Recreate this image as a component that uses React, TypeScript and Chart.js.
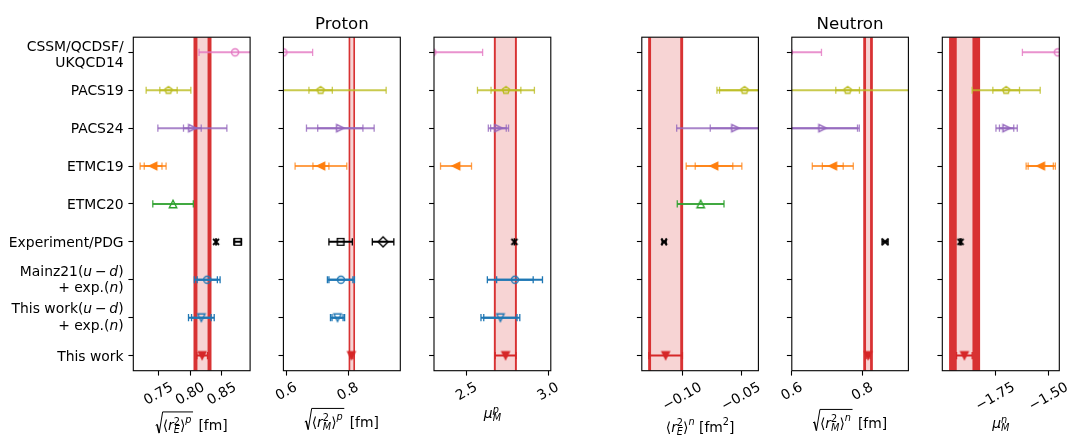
import React, { useEffect, useRef } from "react";
import { Chart, registerables } from "chart.js";
Chart.register(...registerables);

const W = 1069;
const H = 437;
const FONT = "'DejaVu Sans', 'Noto Sans', sans-serif";
const FS = 13.9;

// ---------------- data ----------------
const categories = [
  "CSSM/QCDSF/\nUKQCD14",
  "PACS19",
  "PACS24",
  "ETMC19",
  "ETMC20",
  "Experiment/PDG",
  "Mainz21($u-d$)\n+ exp.($n$)",
  "This work($u-d$)\n+ exp.($n$)",
  "This work",
];
const rowColors = ["#e377c2", "#bcbd22", "#9467bd", "#ff7f0e", "#2ca02c", "#000000", "#1f77b4", "#1f77b4", "#d62728"];
const rowMarkers = ["o", "p", ">", "<", "^", "x", "o", "v", "v"];
const rowFilled = [false, false, false, true, false, false, false, false, true];
const rowAlpha = [0.8, 0.8, 0.8, 0.75, 0.9, 1, 1, 1, 1];

// sqrt(<r_E^2>^p) [fm]
const rEpValues = [0.871, 0.7658, 0.8035, 0.7415, 0.773, null, 0.827, 0.8177, 0.819];
const rEpInner = [null, 0.0137, 0.014, 0.014, null, null, 0.016, 0.0155, null];
const rEpOuter = [0.057, 0.0353, 0.0545, 0.0205, 0.032, null, 0.0203, 0.0203, 0.0084];
const rEpExp = [0.8409, 0.8751];
const rEpExpErr = [0.0004, 0.0061];
const rEpBand = [0.8195, 0.0079, 0.0142];
const rEpTicks = [0.75, 0.8, 0.85];
const rEpTickLabels = ["0.75", "0.80", "0.85"];

// sqrt(<r_M^2>^p) [fm]
const rMpValues = [0.59, 0.711, 0.775, 0.712, null, null, 0.777, 0.766, 0.811];
const rMpInner = [null, 0.038, 0.0735, 0.026, null, null, 0.039, 0.018, null];
const rMpOuter = [0.095, 0.213, 0.11, 0.084, null, null, 0.044, 0.023, 0.005];
const rMpExp = [0.776, 0.914];
const rMpExpErr = [0.038, 0.035];
const rMpBand = [0.8124, 0.0049, 0.0104];
const rMpTicks = [0.6, 0.8];
const rMpTickLabels = ["0.6", "0.8"];

// mu_M^p
const muPValues = [2.29, 2.741, 2.695, 2.435, null, null, 2.796, 2.707, 2.739];
const muPInner = [null, 0.0915, 0.048, null, null, null, 0.112, 0.102, null];
const muPOuter = [0.308, 0.1745, 0.062, 0.095, null, null, 0.169, 0.119, 0.064];
const muPExp = [2.7928];
const muPExpErr = [0.0003];
const muPBand = [2.7375, 0.0585, 0.0705];
const muPTicks = [2.5, 3.0];
const muPTickLabels = ["2.5", "3.0"];

// <r_E^2>^n [fm^2]
const rEnValues = [null, -0.047, -0.0548, -0.073, -0.0844, null, null, null, -0.1142];
const rEnInner = [null, 0.0213, 0.0214, 0.016, null, null, null, null, null];
const rEnOuter = [null, 0.0235, 0.05, 0.0237, 0.0199, null, null, null, 0.0143];
const rEnExp = [-0.1155];
const rEnExpErr = [0.0017];
const rEnBand = [-0.1142, 0.0124, 0.0149];
const rEnTicks = [-0.1, -0.05];
const rEnTickLabels = ["\u22120.10", "\u22120.05"];

// sqrt(<r_M^2>^n) [fm]
const rMnValues = [0.592, 0.758, 0.687, 0.716, null, null, null, null, 0.816];
const rMnInner = [null, 0.0335, 0.099, 0.0295, null, null, null, null, null];
const rMnOuter = [0.092, 0.21, 0.104, 0.058, null, null, null, null, 0.0057];
const rMnExp = [0.864];
const rMnExpErr = [0.0085];
const rMnBand = [0.8158, 0.0057, 0.0136];
const rMnTicks = [0.6, 0.8];
const rMnTickLabels = ["0.6", "0.8"];

// mu_M^n
const muNValues = [-1.457, -1.699, -1.697, -1.537, null, null, null, null, -1.895];
const muNInner = [null, 0.0625, 0.0335, 0.059, null, null, null, null, null];
const muNOuter = [0.166, 0.1595, 0.05, 0.0685, null, null, null, null, 0.0366];
const muNExp = [-1.913];
const muNExpErr = [0.003];
const muNBand = [-1.894, 0.0366, 0.0727];
const muNTicks = [-1.75, -1.5];
const muNTickLabels = ["\u22121.75", "\u22121.50"];

// ---------------- label specs ----------------
type Tok = { t?: string; it?: boolean; s?: "sup" | "sub"; stack?: boolean; dy?: number; sq?: "open" | "close" };

const sqrtLabel = (sub: string, sup: string): Tok[] => [
  { sq: "open" },
  { t: "\u27E8" },
  { t: "r", it: true },
  { t: sub, it: true, s: "sub" },
  { t: "2", s: "sup", stack: true },
  { t: "\u27E9" },
  { t: sup, it: true, s: "sup", dy: -0.5 },
  { sq: "close" },
  { t: " [fm]" },
];
const muLabel = (sup: string): Tok[] => [
  { t: "\u03BC", it: true },
  { t: "M", it: true, s: "sub" },
  { t: sup, it: true, s: "sup", stack: true },
];
const rEnLabel: Tok[] = [
  { t: "\u27E8" },
  { t: "r", it: true },
  { t: "E", it: true, s: "sub" },
  { t: "2", s: "sup", stack: true },
  { t: "\u27E9" },
  { t: "n", it: true, s: "sup", dy: -0.5 },
  { t: " [fm" },
  { t: "2", s: "sup", dy: -0.45 },
  { t: "]" },
];

const TOP = 37.2;
const BOTTOM = 370.7;

const PANELS = [
  { values: rEpValues, inner: rEpInner, outer: rEpOuter, exp: rEpExp, expErr: rEpExpErr, expMarkers: ["x", "s"], band: rEpBand, ticks: rEpTicks, tickLabels: rEpTickLabels, xmin: 0.7102, xmax: 0.8947, left: 133.3, right: 250.1, xlabel: sqrtLabel("E", "p"), xlabelBase: 430, title: "" },
  { values: rMpValues, inner: rMpInner, outer: rMpOuter, exp: rMpExp, expErr: rMpExpErr, expMarkers: ["s", "D"], band: rMpBand, ticks: rMpTicks, tickLabels: rMpTickLabels, xmin: 0.59, xmax: 0.97, left: 283.4, right: 400.3, xlabel: sqrtLabel("M", "p"), xlabelBase: 426.5, title: "Proton" },
  { values: muPValues, inner: muPInner, outer: muPOuter, exp: muPExp, expErr: muPExpErr, expMarkers: ["x"], band: muPBand, ticks: muPTicks, tickLabels: muPTickLabels, xmin: 2.3, xmax: 3.016, left: 434.0, right: 550.8, xlabel: muLabel("p"), xlabelBase: 418, title: "" },
  { values: rEnValues, inner: rEnInner, outer: rEnOuter, exp: rEnExp, expErr: rEnExpErr, expMarkers: ["x"], band: rEnBand, ticks: rEnTicks, tickLabels: rEnTickLabels, xmin: -0.1345, xmax: -0.0352, left: 641.8, right: 758.4, xlabel: rEnLabel, xlabelBase: 431.5, title: "" },
  { values: rMnValues, inner: rMnInner, outer: rMnOuter, exp: rMnExp, expErr: rMnExpErr, expMarkers: ["x"], band: rMnBand, ticks: rMnTicks, tickLabels: rMnTickLabels, xmin: 0.6, xmax: 0.93, left: 791.8, right: 908.4, xlabel: sqrtLabel("M", "n"), xlabelBase: 427.5, title: "Neutron" },
  { values: muNValues, inner: muNInner, outer: muNOuter, exp: muNExp, expErr: muNExpErr, expMarkers: ["x"], band: muNBand, ticks: muNTicks, tickLabels: muNTickLabels, xmin: -1.9985, xmax: -1.45, left: 942.3, right: 1059.3, xlabel: muLabel("n"), xlabelBase: 428, title: "" },
];

// ---------------- helpers ----------------
const markerCache: Record<string, HTMLCanvasElement> = {};
function makeMarker(shape: string, color: string, filled: boolean): HTMLCanvasElement {
  const key = shape + color + filled;
  if (markerCache[key]) return markerCache[key];
  const ms = 7.4;
  const mew = 1.4;
  const size = 18;
  const c = document.createElement("canvas");
  c.width = size;
  c.height = size;
  const g = c.getContext("2d")!;
  g.translate(size / 2, size / 2);
  const r = ms / 2;
  g.beginPath();
  if (shape === "o") g.arc(0, 0, r * 0.95, 0, Math.PI * 2);
  else if (shape === "^") { g.moveTo(0, -r); g.lineTo(-r, r); g.lineTo(r, r); g.closePath(); }
  else if (shape === "v") { g.moveTo(0, r); g.lineTo(-r, -r); g.lineTo(r, -r); g.closePath(); }
  else if (shape === ">") { g.moveTo(r, 0); g.lineTo(-r, -r); g.lineTo(-r, r); g.closePath(); }
  else if (shape === "<") { g.moveTo(-r, 0); g.lineTo(r, -r); g.lineTo(r, r); g.closePath(); }
  else if (shape === "p") {
    for (let k = 0; k < 5; k++) {
      const a = -Math.PI / 2 + (k * 2 * Math.PI) / 5;
      const px = r * Math.cos(a), py = r * Math.sin(a);
      if (k === 0) g.moveTo(px, py); else g.lineTo(px, py);
    }
    g.closePath();
  } else if (shape === "s") g.rect(-r * 0.9, -r * 0.9, 1.8 * r, 1.8 * r);
  else if (shape === "D") {
    const d = r * 1.35;
    g.moveTo(0, -d); g.lineTo(d, 0); g.lineTo(0, d); g.lineTo(-d, 0); g.closePath();
  } else if (shape === "x") {
    const d = r * 0.8;
    g.moveTo(-d, -d); g.lineTo(d, d); g.moveTo(-d, d); g.lineTo(d, -d);
  }
  g.lineWidth = shape === "x" ? 1.9 : mew;
  g.strokeStyle = color;
  g.lineJoin = "miter";
  if (filled) { g.fillStyle = color; g.fill(); }
  g.stroke();
  markerCache[key] = c;
  return c;
}

function hexA(hex: string, a: number) {
  const n = parseInt(hex.slice(1), 16);
  return `rgba(${(n >> 16) & 255},${(n >> 8) & 255},${n & 255},${a})`;
}

function drawErr(ctx: CanvasRenderingContext2D, xs: any, y: number, c: number, e: number, color: string) {
  const x1 = xs.getPixelForValue(c - e);
  const x2 = xs.getPixelForValue(c + e);
  ctx.strokeStyle = color;
  ctx.lineWidth = 2.0;
  ctx.lineCap = "butt";
  ctx.beginPath();
  ctx.moveTo(x1, y);
  ctx.lineTo(x2, y);
  ctx.stroke();
  ctx.lineWidth = 1.3;
  const cap = 3.6;
  ctx.beginPath();
  ctx.moveTo(x1, y - cap); ctx.lineTo(x1, y + cap);
  ctx.moveTo(x2, y - cap); ctx.lineTo(x2, y + cap);
  ctx.stroke();
}

function fontStr(it: boolean, size: number) {
  return `${it ? "italic " : ""}${size}px ${FONT}`;
}

function drawMath(ctx: CanvasRenderingContext2D, toks: Tok[], cx: number, base: number, fs: number) {
  const items: { t: string; x: number; dy: number; font: string }[] = [];
  const rads: { x0: number; x1: number }[] = [];
  let x = 0;
  let sqStart = 0;
  let prevScript: { x: number } | null = null;
  const RADW = 0.5 * fs;
  for (const tk of toks) {
    if (tk.sq === "open") { sqStart = x; x += RADW; prevScript = null; continue; }
    if (tk.sq === "close") { rads.push({ x0: sqStart, x1: x + 1.5 }); x += 2.5; prevScript = null; continue; }
    const size = tk.s ? fs * 0.7 : fs;
    const font = fontStr(!!tk.it, size);
    ctx.font = font;
    const w = ctx.measureText(tk.t!).width;
    let dy = 0;
    if (tk.s === "sup") dy = (tk.dy ?? -0.36) * fs;
    if (tk.s === "sub") dy = (tk.dy ?? 0.25) * fs;
    if (tk.stack && prevScript) {
      items.push({ t: tk.t!, x: prevScript.x, dy, font });
      x = Math.max(x, prevScript.x + w);
      prevScript = null;
    } else {
      const it = { t: tk.t!, x, dy, font };
      items.push(it);
      x += w;
      prevScript = tk.s ? it : null;
    }
  }
  const x0 = cx - x / 2;
  ctx.fillStyle = "#000";
  ctx.textAlign = "left";
  ctx.textBaseline = "alphabetic";
  for (const it of items) {
    ctx.font = it.font;
    ctx.fillText(it.t, x0 + it.x, base + it.dy);
  }
  for (const r of rads) {
    const a = x0 + r.x0;
    const top = base - 1.3 * fs;
    ctx.strokeStyle = "#000";
    ctx.lineWidth = 1.0;
    ctx.lineJoin = "miter";
    ctx.beginPath();
    ctx.moveTo(a, base - 0.33 * fs);
    ctx.lineTo(a + 0.1 * fs, base - 0.4 * fs);
    ctx.stroke();
    ctx.lineWidth = 1.5;
    ctx.beginPath();
    ctx.moveTo(a + 0.1 * fs, base - 0.4 * fs);
    ctx.lineTo(a + 0.25 * fs, base + 0.22 * fs);
    ctx.stroke();
    ctx.lineWidth = 1.0;
    ctx.beginPath();
    ctx.moveTo(a + 0.25 * fs, base + 0.22 * fs);
    ctx.lineTo(a + RADW, top);
    ctx.lineTo(x0 + r.x1, top);
    ctx.stroke();
  }
}

function drawRichLine(ctx: CanvasRenderingContext2D, line: string, right: number, base: number) {
  const parts = line.split("$");
  const segs: { t: string; it: boolean; w?: number }[] = [];
  parts.forEach((p, i) => {
    if (i % 2 === 0) { if (p) segs.push({ t: p, it: false }); }
    else {
      for (const ch of p) {
        if (ch === "-") segs.push({ t: "\u2009\u2212\u2009", it: false });
        else segs.push({ t: ch, it: /[a-zA-Z]/.test(ch) });
      }
    }
  });
  let total = 0;
  for (const s of segs) { ctx.font = fontStr(s.it, FS); s.w = ctx.measureText(s.t).width; total += s.w; }
  let x = right - total;
  ctx.textAlign = "left";
  ctx.textBaseline = "alphabetic";
  ctx.fillStyle = "#000";
  for (const s of segs) { ctx.font = fontStr(s.it, FS); ctx.fillText(s.t, x, base); x += s.w!; }
}

function buildConfig(P: any, idx: number) {
  const datasets: any[] = [];
  P.values.forEach((v: number | null, i: number) => {
    if (v == null) return;
    datasets.push({
      label: categories[i],
      data: [{ x: v, y: i }],
      pointStyle: makeMarker(rowMarkers[i], rowColors[i], rowFilled[i]),
      pointRadius: 5,
      clip: 0,
    });
  });
  P.exp.forEach((v: number, j: number) => {
    datasets.push({
      label: categories[5],
      data: [{ x: v, y: 5 }],
      pointStyle: makeMarker(P.expMarkers[j], "#000000", false),
      pointRadius: 5,
      clip: 0,
    });
  });

  const plugin = {
    id: "panelDeco" + idx,
    beforeDatasetsDraw(chart: any) {
      const { ctx, chartArea: a } = chart;
      const xs = chart.scales.x, ys = chart.scales.y;
      ctx.save();
      ctx.beginPath();
      ctx.rect(a.left, a.top, a.right - a.left, a.bottom - a.top);
      ctx.clip();
      const [c, s, t] = P.band;
      const span = (lo: number, hi: number, col: string) => {
        const x1 = xs.getPixelForValue(lo), x2 = xs.getPixelForValue(hi);
        ctx.fillStyle = col;
        ctx.fillRect(x1, a.top, x2 - x1, a.bottom - a.top);
      };
      span(c - s, c + s, "rgba(214,39,40,0.2)");
      span(c - t, c - s, "rgba(214,39,40,0.95)");
      span(c + s, c + t, "rgba(214,39,40,0.95)");
      P.values.forEach((v: number | null, i: number) => {
        if (v == null) return;
        const y = ys.getPixelForValue(i);
        const col = hexA(rowColors[i], rowAlpha[i]);
        if (P.outer[i] != null) drawErr(ctx, xs, y, v, P.outer[i], col);
        if (P.inner[i] != null) drawErr(ctx, xs, y, v, P.inner[i], col);
      });
      P.exp.forEach((v: number, j: number) => {
        drawErr(ctx, xs, ys.getPixelForValue(5), v, P.expErr[j], "#000000");
      });
      ctx.restore();
    },
    afterDraw(chart: any) {
      const { ctx, chartArea: a } = chart;
      const xs = chart.scales.x, ys = chart.scales.y;
      ctx.save();
      // frame
      ctx.strokeStyle = "#000";
      ctx.lineWidth = 1.1;
      ctx.strokeRect(a.left, a.top, a.right - a.left, a.bottom - a.top);
      // x tick labels, rotated 30 deg, centred
      ctx.font = fontStr(false, FS);
      ctx.fillStyle = "#000";
      xs.ticks.forEach((tk: any, j: number) => {
        const label = P.tickLabels[j];
        const x = xs.getPixelForValue(tk.value);
        const w = ctx.measureText(label).width;
        const hl = 0.968 * FS, d = 0.208 * FS;
        const Hr = w * 0.5 + hl * 0.866;
        const cy = a.bottom + 9.7 + Hr / 2;
        ctx.save();
        ctx.translate(x, cy);
        ctx.rotate(-Math.PI / 6);
        ctx.textAlign = "center";
        ctx.textBaseline = "alphabetic";
        ctx.fillText(label, 0, hl / 2 - d);
        ctx.restore();
      });
      // x label
      drawMath(ctx, P.xlabel, (a.left + a.right) / 2, P.xlabelBase, FS);
      // y labels
      if (idx === 0) {
        const right = a.left - 9.7;
        categories.forEach((cat, i) => {
          const y = ys.getPixelForValue(i);
          const lines = cat.split("\n");
          if (lines.length === 1) drawRichLine(ctx, lines[0], right, y + 5.1);
          else {
            const math = cat.includes("$");
            const offs = math ? [-4.2, 12.4] : [-1.5, 14.6];
            lines.forEach((ln, k) => drawRichLine(ctx, ln, right, y + offs[k]));
          }
        });
      }
      if (P.title) {
        ctx.font = `16.67px ${FONT}`;
        ctx.textAlign = "center";
        ctx.textBaseline = "alphabetic";
        ctx.fillStyle = "#000";
        ctx.fillText(P.title, (a.left + a.right) / 2, a.top - 8.3);
      }
      ctx.restore();
    },
  };

  const gridOpts = {
    display: true,
    drawOnChartArea: false,
    drawTicks: true,
    tickLength: 4.9,
    tickWidth: 1.1,
    tickColor: "#000",
  };

  return {
    type: "scatter",
    data: { datasets },
    options: {
      animation: false,
      responsive: false,
      devicePixelRatio: 1,
      events: [],
      layout: { padding: { left: P.left, right: W - P.right, top: TOP, bottom: H - BOTTOM } },
      plugins: { legend: { display: false }, tooltip: { enabled: false } },
      scales: {
        x: {
          type: "linear",
          position: "bottom",
          min: P.xmin,
          max: P.xmax,
          afterFit: (s: any) => { s.height = 0; },
          afterBuildTicks: (s: any) => { s.ticks = P.ticks.map((v: number) => ({ value: v })); },
          ticks: { display: false },
          grid: gridOpts,
          border: { display: false },
        },
        y: {
          type: "linear",
          position: "left",
          min: -0.4,
          max: 8.4,
          reverse: true,
          afterFit: (s: any) => { s.width = 0; },
          afterBuildTicks: (s: any) => { s.ticks = categories.map((_, i) => ({ value: i })); },
          ticks: { display: false },
          grid: gridOpts,
          border: { display: false },
        },
      },
    },
    plugins: [plugin],
  };
}

function Panel({ spec, idx }: { spec: any; idx: number }) {
  const ref = useRef<HTMLCanvasElement | null>(null);
  useEffect(() => {
    const chart = new Chart(ref.current!, buildConfig(spec, idx) as any);
    return () => chart.destroy();
  }, []);
  return (
    <canvas
      ref={ref}
      width={W}
      height={H}
      style={{ position: "absolute", left: 0, top: 0, width: W, height: H }}
    />
  );
}

export default function App() {
  return (
    <div style={{ position: "absolute", left: 0, top: 0, width: W, height: H, background: "#fff", overflow: "hidden" }}>
      {PANELS.map((p, i) => (
        <Panel key={i} spec={p} idx={i} />
      ))}
    </div>
  );
}
